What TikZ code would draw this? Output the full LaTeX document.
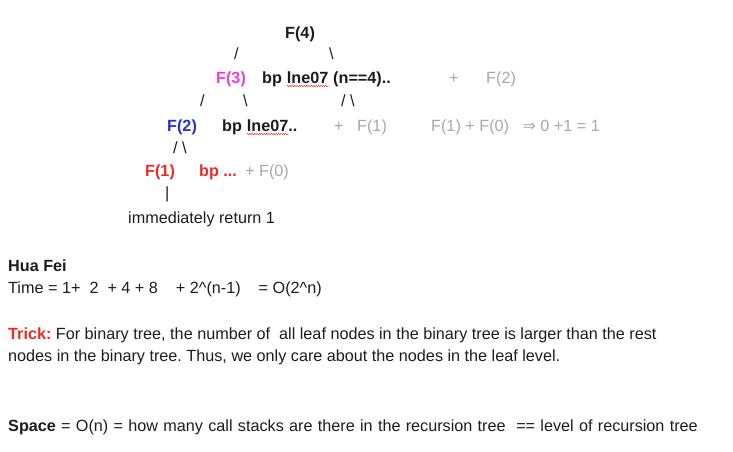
\documentclass[tikz,border=0pt]{standalone}
\usepackage{fontspec}
\setmainfont{Liberation Sans}
\newfontfamily\arrowfont{DejaVu Sans}
\usetikzlibrary{decorations.pathmorphing}
\frenchspacing

\definecolor{ink}{HTML}{1C1C1C}
\definecolor{fadegray}{HTML}{A8A8A8}
\definecolor{callpink}{HTML}{F03CD8}
\definecolor{callblue}{HTML}{2432D8}
\definecolor{callred}{HTML}{EE2A24}

\begin{document}
\begin{tikzpicture}[x=1pt,y=-1pt,
    txt/.style={anchor=base west, inner sep=0pt, text=ink,
                font=\fontsize{16.2}{19}\selectfont},
    call/.style={txt, font=\fontsize{16.2}{19}\selectfont\bfseries},
    faded/.style={txt, text=fadegray},
    squiggle/.style={draw=callred, line width=0.5pt, decorate,
                     decoration={snake, amplitude=0.6pt, segment length=2.4pt}}]
    \useasboundingbox (0,0) rectangle (733,451);

    % recursion tree
    \node[call] (f4) at (285,38) {F(4)};
    \node[txt] (s1l) at (234,59) {/};
    \node[txt] (s1r) at (329,59) {\textbackslash};

    \node[call, text=callpink] (f3) at (216,83) {F(3)};
    \node[call] (bp3) at (262,83) {bp};
    \node[call] (ln3) at ([xshift=4.5pt]bp3.base east) {lne07};
    \node[call] (n3) at ([xshift=4.5pt]ln3.base east) {(n==4)..};
    \node[faded] (p3) at (449,83) {+};
    \node[faded] (f2r) at (486,83) {F(2)};

    \node[txt] (s2a) at (200,106) {/};
    \node[txt] (s2b) at (243,106) {\textbackslash};
    \node[txt] (s2c) at (341,106) {/};
    \node[txt] (s2d) at (350,106) {\textbackslash};

    \node[call, text=callblue] (f2) at (167,131) {F(2)};
    \node[call] (bp2) at (222,131) {bp};
    \node[call] (ln2) at ([xshift=4.5pt]bp2.base east) {lne07..};
    \node[faded] (p2) at (334,131) {+};
    \node[faded] (f1r) at (357,131) {F(1)};
    \node[faded] (sum) at (431,131) {F(1) + F(0) \ \ {\arrowfont\fontsize{16}{18}\selectfont⇒} 0 +1 = 1};

    \node[txt] (s3l) at (173,153) {/};
    \node[txt] (s3r) at (182,153) {\textbackslash};

    \node[call, text=callred] (f1) at (145,176) {F(1)};
    \node[call, text=callred] (bp1) at (199,176) {bp ...};
    \node[faded] (f0r) at (245,176) {+ F(0)};
    \node[txt] (bar) at (165,198) {|};
    \node[txt] (ret) at (128,223) {immediately return 1};

    \draw[squiggle] ([yshift=-3pt]ln3.base west) -- ([yshift=-3pt]ln3.base east);
    \draw[squiggle] ([yshift=-3pt]ln2.base west) -- ([xshift=-9pt,yshift=-3pt]ln2.base east);

    % notes
    \node[call] (who) at (8,271) {Hua Fei};
    \node[txt] (time) at (8,293) {Time = 1+ \ 2 \ + 4 + 8 \ \ \ + 2\^{}(n-1) \ \ \ = O(2\^{}n)};
    \node[txt] (trick) at (8,339) {\textbf{\color{callred}Trick:} For binary tree, the number of \ all leaf nodes in the binary tree is larger than the rest};
    \node[txt] (trick2) at (8,361) {nodes in the binary tree. Thus, we only care about the nodes in the leaf level.};
    \node[txt] (space) at (8,431) {\spaceskip=5.3pt plus 1pt\relax \textbf{Space} = O(n) = how many call stacks are there in the recursion tree \ == level of recursion tree};
\end{tikzpicture}
\end{document}
